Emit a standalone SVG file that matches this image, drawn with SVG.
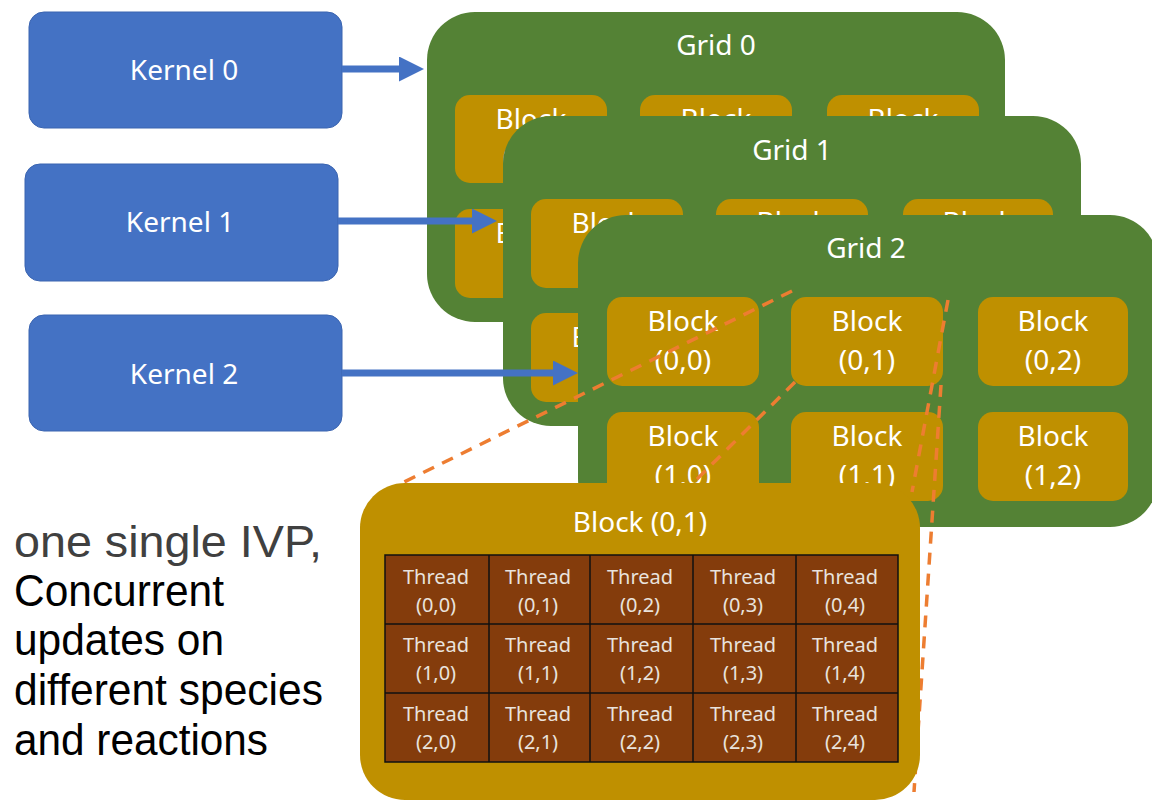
<svg xmlns="http://www.w3.org/2000/svg" width="1152" height="802" viewBox="0 0 1152 802">
  <defs>
    <style>
      .kernel { fill: #4472C4; stroke: #3A64B0; stroke-width: 1; }
      .grid { fill: #548235; }
      .blk { fill: #BF9000; }
      .lbl { font-family: "Noto Sans", "DejaVu Sans", sans-serif; font-size: 28px; fill: #FFFFFF; text-anchor: middle; }
      .thr { font-family: "Noto Sans", "DejaVu Sans", sans-serif; font-size: 20px; fill: #E9E3DD; text-anchor: middle; }
      .arrow { stroke: #4472C4; stroke-width: 7; fill: none; }
      .zoomline { stroke: #ED7D31; stroke-width: 3.5; stroke-dasharray: 12 9; fill: none; }
      .cap { font-family: "Liberation Sans", Arial, sans-serif; font-size: 45px; fill: #000000; }
      .cap1 { fill: #404040; }
      .cell { fill: #843C0C; stroke: #111111; stroke-width: 1.5; }
      .cellline { stroke: #111111; stroke-width: 1.5; }
    </style>
    <marker id="head" viewBox="0 0 25 25" refX="15" refY="12.5" markerWidth="25" markerHeight="25" markerUnits="userSpaceOnUse" orient="auto">
      <path d="M0,0 L25,12.5 L0,25 Z" fill="#4472C4"/>
    </marker>
  </defs>

  <rect width="1152" height="802" fill="#FFFFFF"/>

  <!-- kernels -->
  <g id="kernel0">
    <rect class="kernel" x="29" y="12" width="313" height="116" rx="15"/>
    <text class="lbl" x="184" y="80">Kernel 0</text>
  </g>
  <g id="kernel1">
    <rect class="kernel" x="25" y="164" width="313" height="117" rx="15"/>
    <text class="lbl" x="180" y="232">Kernel 1</text>
  </g>
  <g id="kernel2">
    <rect class="kernel" x="29" y="315" width="313" height="116" rx="15"/>
    <text class="lbl" x="184" y="384">Kernel 2</text>
  </g>

  <!-- Grid 0 (mostly covered by Grid 1) -->
  <g id="grid0">
    <rect class="grid" x="427" y="12" width="578" height="310" rx="48"/>
    <text class="lbl" x="716" y="55">Grid 0</text>
    <g id="grid0-b00"><rect class="blk" x="455" y="95" width="152" height="88" rx="15"/><text class="lbl" x="531" y="129">Block</text><text class="lbl" x="531" y="167">(0,0)</text></g>
    <g id="grid0-b01"><rect class="blk" x="640" y="95" width="152" height="88" rx="15"/><text class="lbl" x="716" y="129">Block</text></g>
    <g id="grid0-b02"><rect class="blk" x="827" y="95" width="152" height="88" rx="15"/><text class="lbl" x="903" y="129">Block</text></g>
    <g id="grid0-b10"><rect class="blk" x="455" y="209" width="152" height="89" rx="15"/><text class="lbl" x="531" y="243">Block</text></g>
    <g id="grid0-b11"><rect class="blk" x="640" y="209" width="152" height="89" rx="15"/></g>
    <g id="grid0-b12"><rect class="blk" x="827" y="209" width="152" height="89" rx="15"/></g>
  </g>

  <!-- Grid 1 (mostly covered by Grid 2) -->
  <g id="grid1">
    <rect class="grid" x="503" y="116" width="578" height="310" rx="48"/>
    <text class="lbl" x="792" y="160">Grid 1</text>
    <g id="grid1-b00"><rect class="blk" x="531" y="199" width="152" height="89" rx="15"/><text class="lbl" x="607" y="233">Block</text></g>
    <g id="grid1-b01"><rect class="blk" x="716" y="199" width="152" height="89" rx="15"/><text class="lbl" x="792" y="232">Block</text></g>
    <g id="grid1-b02"><rect class="blk" x="903" y="199" width="150" height="89" rx="15"/><text class="lbl" x="978" y="232">Block</text></g>
    <g id="grid1-b10"><rect class="blk" x="531" y="313" width="152" height="89" rx="15"/><text class="lbl" x="607" y="347">Block</text></g>
    <g id="grid1-b11"><rect class="blk" x="716" y="313" width="152" height="89" rx="15"/></g>
    <g id="grid1-b12"><rect class="blk" x="903" y="313" width="150" height="89" rx="15"/></g>
  </g>

  <!-- Grid 2 -->
  <g id="grid2">
    <rect class="grid" x="578" y="215" width="580" height="312" rx="48"/>
    <text class="lbl" x="866" y="258">Grid 2</text>
    <g id="grid2-b00"><rect class="blk" x="607" y="297" width="152" height="89" rx="15"/><text class="lbl" x="683" y="331">Block</text><text class="lbl" x="683" y="370">(0,0)</text></g>
    <g id="grid2-b01"><rect class="blk" x="791" y="297" width="152" height="89" rx="15"/><text class="lbl" x="867" y="331">Block</text><text class="lbl" x="867" y="370">(0,1)</text></g>
    <g id="grid2-b02"><rect class="blk" x="978" y="297" width="150" height="89" rx="15"/><text class="lbl" x="1053" y="331">Block</text><text class="lbl" x="1053" y="370">(0,2)</text></g>
    <g id="grid2-b10"><rect class="blk" x="607" y="412" width="152" height="89" rx="15"/><text class="lbl" x="683" y="446">Block</text><text class="lbl" x="683" y="485">(1,0)</text></g>
    <g id="grid2-b11"><rect class="blk" x="791" y="412" width="152" height="89" rx="15"/><text class="lbl" x="867" y="446">Block</text><text class="lbl" x="867" y="485">(1,1)</text></g>
    <g id="grid2-b12"><rect class="blk" x="978" y="412" width="150" height="89" rx="15"/><text class="lbl" x="1053" y="446">Block</text><text class="lbl" x="1053" y="485">(1,2)</text></g>
  </g>

  <!-- connectors: kernel launches and the zoom-in guides for Block (0,1) -->
  <g id="connectors">
    <line class="arrow" x1="342" y1="69" x2="414" y2="69" marker-end="url(#head)"/>
    <line class="arrow" x1="338" y1="221" x2="487" y2="221" marker-end="url(#head)"/>
    <line class="arrow" x1="342" y1="373" x2="568" y2="373" marker-end="url(#head)"/>
    <line class="zoomline" x1="792" y1="291" x2="400" y2="484"/>
    <line class="zoomline" x1="795" y1="382" x2="686" y2="490"/>
    <line class="zoomline" x1="948" y1="300" x2="912" y2="492"/>
    <line class="zoomline" x1="941" y1="385" x2="914" y2="792"/>
  </g>

  <!-- enlarged Block (0,1) with its threads -->
  <g id="block01-detail">
    <rect class="blk" x="360" y="483" width="560" height="317" rx="45"/>
    <text class="lbl" x="640" y="532">Block (0,1)</text>
    <rect class="cell" x="385" y="555" width="513" height="207"/>
    <line class="cellline" x1="489" y1="555" x2="489" y2="762"/>
    <line class="cellline" x1="590" y1="555" x2="590" y2="762"/>
    <line class="cellline" x1="693" y1="555" x2="693" y2="762"/>
    <line class="cellline" x1="796" y1="555" x2="796" y2="762"/>
    <line class="cellline" x1="385" y1="624" x2="898" y2="624"/>
    <line class="cellline" x1="385" y1="693" x2="898" y2="693"/>

    <g id="threads-row0">
      <text class="thr" x="436" y="584">Thread</text><text class="thr" x="436" y="612">(0,0)</text>
      <text class="thr" x="538" y="584">Thread</text><text class="thr" x="538" y="612">(0,1)</text>
      <text class="thr" x="640" y="584">Thread</text><text class="thr" x="640" y="612">(0,2)</text>
      <text class="thr" x="743" y="584">Thread</text><text class="thr" x="743" y="612">(0,3)</text>
      <text class="thr" x="845" y="584">Thread</text><text class="thr" x="845" y="612">(0,4)</text>
    </g>
    <g id="threads-row1">
      <text class="thr" x="436" y="652">Thread</text><text class="thr" x="436" y="680">(1,0)</text>
      <text class="thr" x="538" y="652">Thread</text><text class="thr" x="538" y="680">(1,1)</text>
      <text class="thr" x="640" y="652">Thread</text><text class="thr" x="640" y="680">(1,2)</text>
      <text class="thr" x="743" y="652">Thread</text><text class="thr" x="743" y="680">(1,3)</text>
      <text class="thr" x="845" y="652">Thread</text><text class="thr" x="845" y="680">(1,4)</text>
    </g>
    <g id="threads-row2">
      <text class="thr" x="436" y="721">Thread</text><text class="thr" x="436" y="749">(2,0)</text>
      <text class="thr" x="538" y="721">Thread</text><text class="thr" x="538" y="749">(2,1)</text>
      <text class="thr" x="640" y="721">Thread</text><text class="thr" x="640" y="749">(2,2)</text>
      <text class="thr" x="743" y="721">Thread</text><text class="thr" x="743" y="749">(2,3)</text>
      <text class="thr" x="845" y="721">Thread</text><text class="thr" x="845" y="749">(2,4)</text>
    </g>
  </g>

  <!-- caption -->
  <g id="caption">
    <text class="cap cap1" x="14" y="557" textLength="308" lengthAdjust="spacingAndGlyphs">one single IVP,</text>
    <text class="cap" x="14" y="606" textLength="210" lengthAdjust="spacingAndGlyphs">Concurrent</text>
    <text class="cap" x="14" y="655" textLength="210" lengthAdjust="spacingAndGlyphs">updates on</text>
    <text class="cap" x="14" y="705" textLength="309" lengthAdjust="spacingAndGlyphs">different species</text>
    <text class="cap" x="14" y="755" textLength="254" lengthAdjust="spacingAndGlyphs">and reactions</text>
  </g>
</svg>
